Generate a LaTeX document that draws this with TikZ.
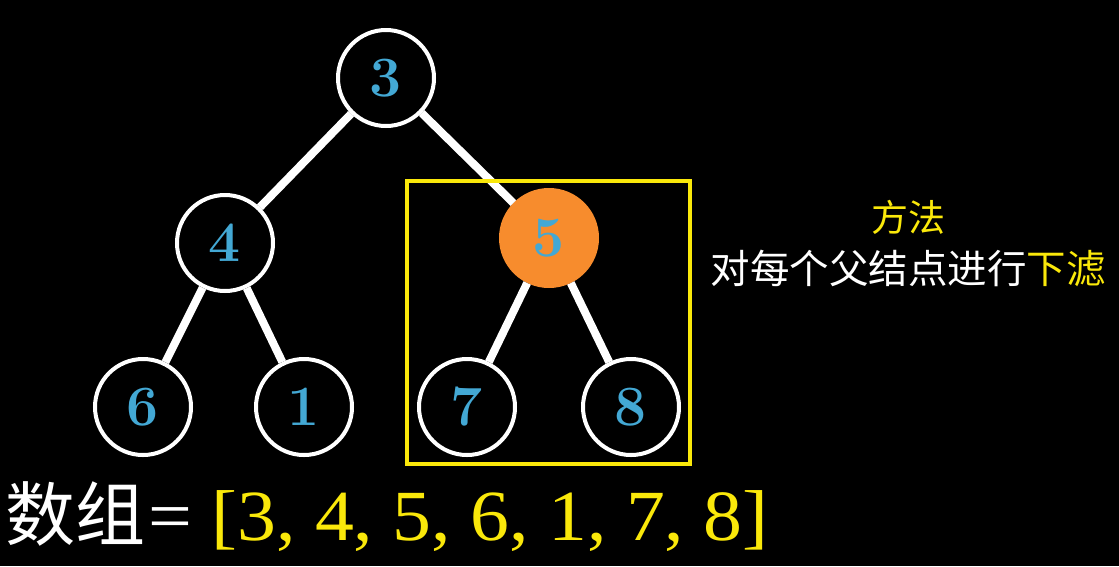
\documentclass[tikz,border=0pt]{standalone}
\usepackage{fontspec}
\newfontfamily\cjk{Noto Sans CJK SC}
\newfontfamily\timesf{Liberation Serif}
\definecolor{digitblue}{RGB}{67,168,212}
\definecolor{heaporange}{RGB}{247,140,45}
\definecolor{hlyellow}{RGB}{250,232,10}
\begin{document}
\begin{tikzpicture}[x=1pt,y=-1pt,
  tnode/.style={circle,draw=white,line width=4pt,minimum size=96pt,inner sep=0pt,
    text=digitblue,font=\fontsize{57}{57}\selectfont\bfseries},
  hot/.style={fill=heaporange,draw=heaporange},
  edge/.style={white,line width=8pt}]
\fill[black] (0,0) rectangle (1119,566);
\path[use as bounding box] (0,0) rectangle (1119,566);
\node[tnode] (n3) at (386,78) {3};
\node[tnode] (n4) at (225,243) {4};
\node[tnode,hot] (n5) at (549,238) {5};
\node[tnode] (n6) at (143,407) {6};
\node[tnode] (n1) at (304,407) {1};
\node[tnode] (n7) at (467,407) {7};
\node[tnode] (n8) at (631,407) {8};
\draw[edge] (n3) -- (n4);
\draw[edge] (n3) -- (n5);
\draw[edge] (n4) -- (n6);
\draw[edge] (n4) -- (n1);
\draw[edge] (n5) -- (n7);
\draw[edge] (n5) -- (n8);
\node[draw=hlyellow,line width=3.5pt,minimum width=283pt,minimum height=283pt,inner sep=0pt] (box) at (548.5,322.5) {};
\node[text=hlyellow,font=\cjk\fontsize{37}{37}\selectfont] (title) at (908,217) {方法};
\node[text=white,font=\cjk\fontsize{39.5}{39.5}\selectfont] (method) at (908,268) {对每个父结点进行\textcolor{hlyellow}{下滤}};
\node[text=white,font=\cjk\fontsize{70}{70}\selectfont,anchor=base west,inner sep=0pt] (lbl) at (5,540) {数组};
\node[font=\timesf\fontsize{72}{72}\selectfont,anchor=base west,inner sep=0pt] (arr) at (148,540) {\scalebox{1.08}[1]{\textcolor{white}{=} \textcolor{hlyellow}{[3, 4, 5, 6, 1, 7, 8]}}};
\end{tikzpicture}
\end{document}
